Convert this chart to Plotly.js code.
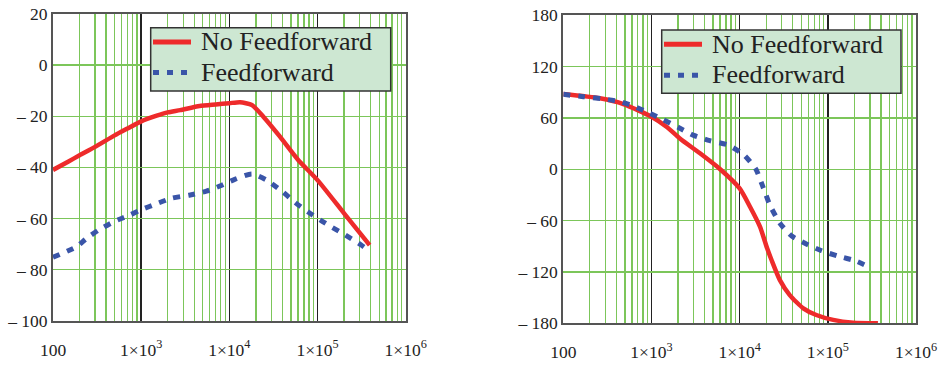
<!DOCTYPE html>
<html>
<head>
<meta charset="utf-8">
<script src="https://cdn.plot.ly/plotly-3.0.1.min.js"></script>
<style>html,body{margin:0;padding:0;background:#fff;}#chart{width:944px;height:365px;}</style>
</head>
<body>
<div id="chart"></div>
<script>
// Magnitude (dB) plot
const magFreqNoFF = [100, 150, 200, 300, 500, 700, 1000, 1500, 2000, 2770, 4600, 7000, 10000, 13200, 18000, 24300, 37500, 60000, 100000, 200000, 390000];
const magNoFF =     [-41, -37.7, -35.3, -32, -27.5, -24.8, -22, -19.8, -18.5, -17.6, -16, -15.4, -14.9, -14.5, -15.6, -20.2, -28, -37, -45, -58, -70.4];
const magFreqFF = [100, 186, 240, 330, 494, 750, 1000, 1480, 2200, 3600, 5500, 7800, 11500, 18000, 26500, 40000, 56000, 79000, 107000, 147000, 206000, 310000, 350000];
const magFF =     [-75.2, -71, -67.8, -64.5, -61.2, -58.6, -56.6, -54.3, -52.1, -50.8, -49.3, -47.3, -44.7, -42.6, -45, -49.5, -53.8, -57.6, -60.6, -63.5, -66.4, -70.3, -71.6];

// Phase (deg) plot
const phFreqNoFF = [100, 260, 480, 1000, 1480, 2100, 3550, 5970, 10000, 13100, 17000, 20500, 23000, 28600, 37000, 52700, 74000, 115000, 194000, 370000];
const phNoFF =     [88, 83, 76.3, 61.5, 49.8, 36, 18.7, 0.4, -22.3, -43.7, -67, -92.4, -106, -129.5, -147, -162.5, -170.3, -176, -179.3, -180];
const phFreqFF = [100, 169, 284, 440, 620, 920, 1340, 2100, 2970, 4600, 7400, 11200, 15300, 18600, 22000, 28600, 39000, 55000, 85000, 130000, 210000, 300000];
const phFF =     [87.6, 84.9, 82.2, 79, 74, 66.2, 58.4, 48, 40, 33.4, 28.4, 16.7, 0, -22, -41.7, -63, -78, -86.5, -95.2, -101.4, -107.3, -114.6];

const seriesNames = ["No Feedforward", "Feedforward"];
const xTickVals = [100, 1000, 10000, 100000, 1000000];
const xTickText = ["100", "1×10<sup>3</sup>", "1×10<sup>4</sup>", "1×10<sup>5</sup>", "1×10<sup>6</sup>"];
const magTickVals = [20, 0, -20, -40, -60, -80, -100];
const magTickText = ["20", "0", "– 20", "– 40", "– 60", "– 80", "– 100"];
const phTickVals = [180, 120, 60, 0, -60, -120, -180];
const phTickText = ["180", "120", "60", "0", "– 60", "– 120", "– 180"];

const minorVals = [];
for (let e = 2; e < 6; e++) for (let d = 2; d <= 9; d++) minorVals.push(d * Math.pow(10, e));

const RED = "#ee2b2b", BLUE = "#3a55a8", GREEN = "#7cc65a";
const serif = "Liberation Serif";

const redLine = {color: RED, width: 4.5, shape: "spline", smoothing: 0.6};
const blueLine = {color: BLUE, width: 5, dash: "7px,8px", shape: "spline", smoothing: 0.6};

const traces = [
  {x: magFreqNoFF, y: magNoFF, name: seriesNames[0], mode: "lines", line: redLine, xaxis: "x", yaxis: "y"},
  {x: magFreqFF, y: magFF, name: seriesNames[1], mode: "lines", line: blueLine, xaxis: "x", yaxis: "y"},
  {x: phFreqNoFF, y: phNoFF, name: seriesNames[0], mode: "lines", line: redLine, xaxis: "x2", yaxis: "y2"},
  {x: phFreqFF, y: phFF, name: seriesNames[1], mode: "lines", line: blueLine, xaxis: "x2", yaxis: "y2"}
];

function xAxis(domain, anchor) {
  return {
    type: "log", range: [2, 6], domain: domain, anchor: anchor,
    tickmode: "array", tickvals: xTickVals, ticktext: xTickText,
    showgrid: true, gridcolor: "#222", gridwidth: 1.5,
    minor: {tickmode: "array", tickvals: minorVals, showgrid: true, gridcolor: GREEN, gridwidth: 1.3, ticks: ""},
    showline: true, mirror: true, linecolor: "#555", linewidth: 2,
    ticks: "", ticklabelstandoff: 12,
    tickfont: {family: serif, size: 17.5, color: "#222"},
    zeroline: false, fixedrange: true
  };
}
function yAxis(domain, anchor, range, vals, text) {
  return {
    range: range, domain: domain, anchor: anchor,
    tickmode: "array", tickvals: vals, ticktext: text,
    showgrid: true, gridcolor: GREEN, gridwidth: 1.3,
    showline: true, mirror: true, linecolor: "#555", linewidth: 2,
    ticks: "", ticklabelstandoff: 0,
    tickfont: {family: serif, size: 17.5, color: "#222"},
    zeroline: false, fixedrange: true
  };
}

// Manual legends (pixel positions converted to paper coords)
const W = 944, H = 365;
const px = v => v / W, py = v => 1 - v / H;
function legendShapes(x0, y0, x1, y1, sx0, sx1, ly1, ly2) {
  return [
    {type: "rect", xref: "paper", yref: "paper", x0: px(x0), x1: px(x1), y0: py(y1), y1: py(y0),
     fillcolor: "#cde7d2", line: {color: "#333", width: 1.5}, layer: "above"},
    {type: "line", xref: "paper", yref: "paper", x0: px(sx0), x1: px(sx1), y0: py(ly1), y1: py(ly1),
     line: {color: RED, width: 5}, layer: "above"},
    {type: "line", xref: "paper", yref: "paper", x0: px(sx0), x1: px(sx1), y0: py(ly2), y1: py(ly2),
     line: {color: BLUE, width: 5, dash: "6px,8px"}, layer: "above"}
  ];
}
function legendText(tx, ty1, ty2) {
  return seriesNames.map((n, i) => ({
    xref: "paper", yref: "paper", x: px(tx), y: py(i === 0 ? ty1 : ty2), xanchor: "left", yanchor: "middle",
    text: n, showarrow: false, font: {family: serif, size: 26, color: "#222"}
  }));
}

const layout = {
  width: W, height: H,
  margin: {l: 0, r: 0, t: 0, b: 0},
  paper_bgcolor: "#fff", plot_bgcolor: "#fff",
  showlegend: false,
  xaxis: xAxis([53/W, 405.7/W], "y"),
  yaxis: yAxis([1 - 320.7/H, 1 - 14/H], "x", [-100, 20], magTickVals, magTickText),
  xaxis2: xAxis([563.3/W, 916/W], "y2"),
  yaxis2: yAxis([1 - 323.3/H, 1 - 15.3/H], "x2", [-180, 180], phTickVals, phTickText),
  shapes: [].concat(
    legendShapes(150.7, 27.7, 390.7, 91, 153, 191, 42, 72.5),
    legendShapes(661.7, 30, 901, 93.3, 664, 702, 44.3, 75.3)
  ),
  annotations: [].concat(
    legendText(199, 42, 73),
    legendText(709.5, 44.5, 75)
  )
};

Plotly.newPlot("chart", traces, layout, {staticPlot: true, displayModeBar: false});
</script>
</body>
</html>
